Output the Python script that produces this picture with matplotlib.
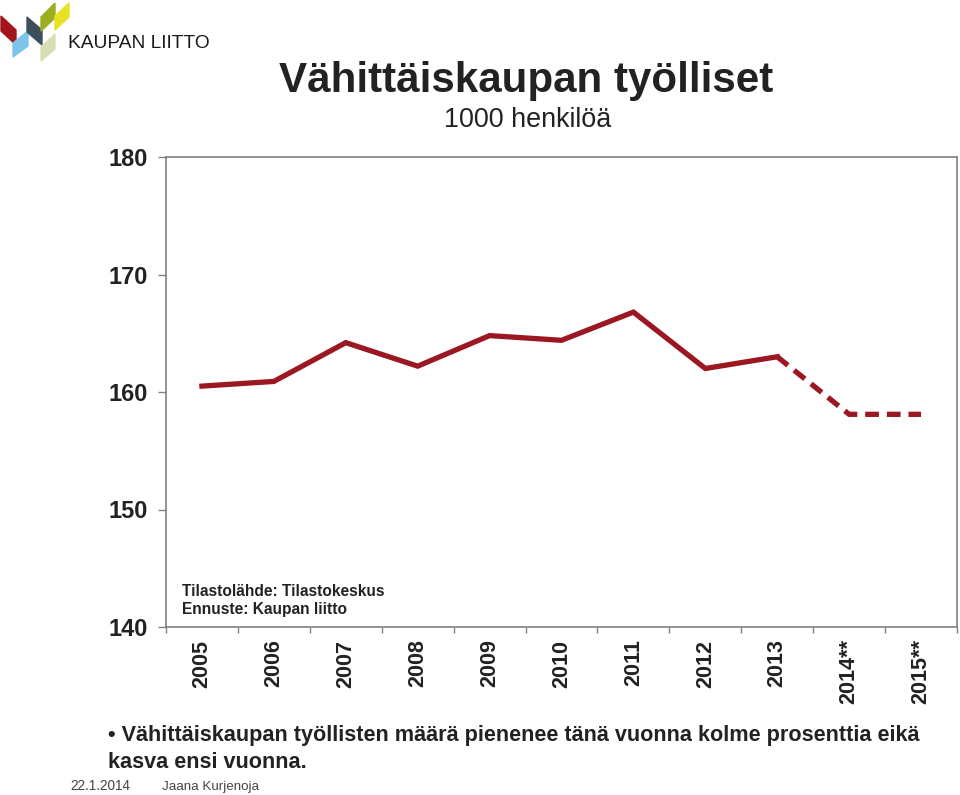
import matplotlib.pyplot as plt
from matplotlib.patches import Polygon

# data (1000 persons)
years = ['2005', '2006', '2007', '2008', '2009', '2010', '2011', '2012', '2013', '2014**', '2015**']
employed = [160.5, 160.9, 164.2, 162.2, 164.8, 164.4, 166.8, 162.0, 163.0, 158.1, 158.1]
n_actual = 9  # 2005-2013 are statistics, rest is forecast
yticks = [140, 150, 160, 170, 180]

W, H = 960, 795
LINE = '#9b1722'
SPINE = '#808080'
TXT = '#222222'
plt.rcParams['font.family'] = ['Liberation Sans', 'DejaVu Sans']

fig = plt.figure(figsize=(W / 100, H / 100), dpi=100)
ax = fig.add_axes([166 / W, 1 - 627 / H, (957 - 166) / W, (627 - 157) / H])

x = list(range(len(years)))
ax.plot(x[:n_actual], employed[:n_actual], color=LINE, lw=3.8, solid_joinstyle='miter')
ax.plot(x[n_actual - 1:], employed[n_actual - 1:], color=LINE, lw=3.8,
        linestyle=(0, (2.6, 1.5)), dash_capstyle='butt')

ax.set_xlim(-0.5, len(years) - 0.5)
ax.set_ylim(140, 180)
ax.set_yticks(yticks)
ax.set_yticklabels([str(v) for v in yticks], fontsize=17, fontweight='bold', color=TXT)
ax.set_xticks(x)
ax.set_xticklabels(years, rotation=90, fontsize=15.5, fontweight='bold', color=TXT,
                   va='top', ha='center')
ax.set_xticks([i - 0.5 for i in range(len(years) + 1)], minor=True)
ax.tick_params(axis='x', which='major', length=0, pad=9)
ax.tick_params(axis='x', which='minor', length=4.5, width=1.0, color=SPINE, direction='out')
ax.tick_params(axis='y', length=6, width=1.0, color=SPINE, pad=7, direction='out')
for s in ax.spines.values():
    s.set_color(SPINE)
    s.set_linewidth(1.2)

# source note inside the plot
fig.text(182 / W, 1 - 596 / H, 'Tilastolähde: Tilastokeskus', fontsize=11.2,
         fontweight='bold', color=TXT, va='baseline')
fig.text(182 / W, 1 - 614 / H, 'Ennuste: Kaupan liitto', fontsize=11.2,
         fontweight='bold', color=TXT, va='baseline')

# titles
fig.text(526 / W, 1 - 92 / H, 'Vähittäiskaupan työlliset', fontsize=30.3, fontweight='bold',
         color=TXT, ha='center', va='baseline')
fig.text(528 / W, 1 - 127 / H, '1000 henkilöä', fontsize=19.4, color=TXT,
         ha='center', va='baseline')

# bottom note
fig.text(108 / W, 1 - 741 / H,
         '• Vähittäiskaupan työllisten määrä pienenee tänä vuonna kolme prosenttia eikä',
         fontsize=15.6, fontweight='bold', color=TXT, va='baseline')
fig.text(108 / W, 1 - 768 / H, 'kasva ensi vuonna.', fontsize=15.6, fontweight='bold',
         color=TXT, va='baseline')
fig.text(70 / W, 1 - 790 / H, '22.1.2014', fontsize=9.8, color='#444444', va='baseline')
fig.text(162 / W, 1 - 790 / H, 'Jaana Kurjenoja', fontsize=9.6, color='#444444', va='baseline')

# logo
def px(pts):
    return [(a / W, 1 - b / H) for a, b in pts]

logo = [
    ('#a3151c', [(1, 16), (1, 31), (16, 45), (16, 30)]),
    ('#7cc4ea', [(13, 43), (13, 57), (28, 46), (28, 31)]),
    ('#3d4f5c', [(27, 17), (27, 32), (42, 45), (42, 30)]),
    ('#9aae1e', [(41, 17), (41, 31), (55, 18), (55, 3)]),
    ('#e8e225', [(55, 16), (55, 30), (69, 17), (69, 3)]),
    ('#d9ddb4', [(41, 47), (41, 61), (55, 49), (55, 34)]),
]
for c, pts in logo:
    fig.patches.append(Polygon(px(pts), closed=True, color=c, transform=fig.transFigure))
fig.text(68 / W, 1 - 48 / H, 'KAUPAN LIITTO', fontsize=13.8, color='#1a1a1a',
         va='baseline')

fig.savefig('out.png', dpi=100)
